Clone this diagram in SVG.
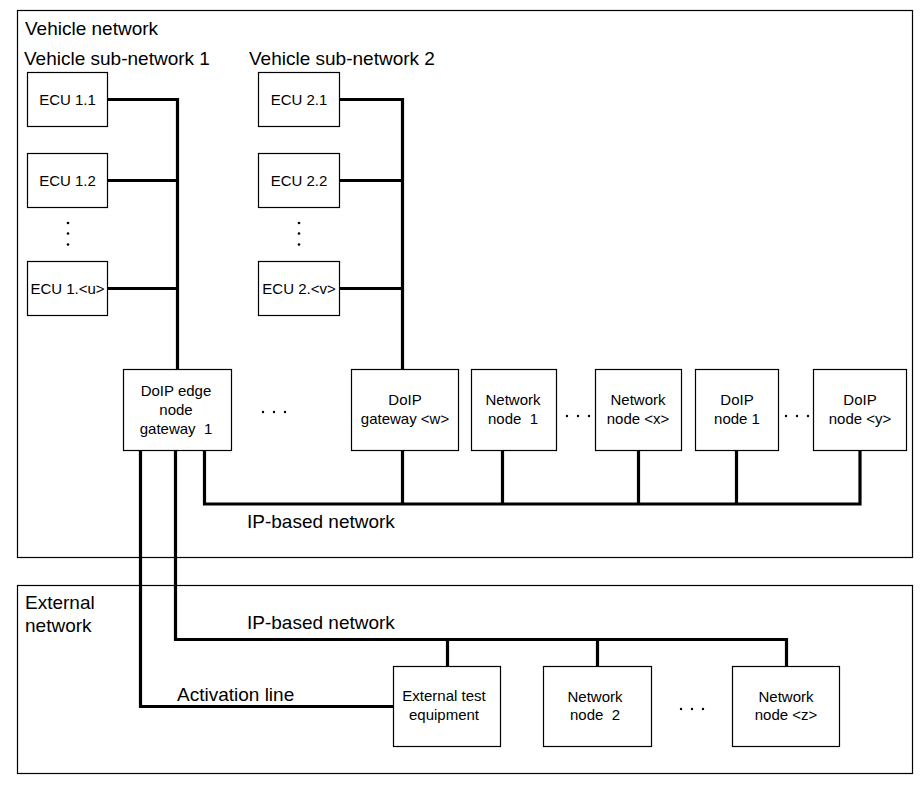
<svg xmlns="http://www.w3.org/2000/svg" width="924" height="787" viewBox="0 0 924 787">
<style>
  .frame { fill: none; stroke: #000; stroke-width: 1.2; }
  .box { fill: #fff; stroke: #000; stroke-width: 1.2; }
  .big { font-family: "Liberation Sans", Arial, sans-serif; font-size: 19px; fill: #000; }
  .t { font-family: "Liberation Sans", Arial, sans-serif; font-size: 15px; fill: #000; text-anchor: middle; }
  .conn { fill: none; stroke: #000; stroke-width: 3.2; stroke-linejoin: miter; stroke-linecap: butt; }
  .dot { fill: #000; }
</style>
<rect width="924" height="787" fill="#fff"/>

<g id="vehicle-network">
  <rect class="frame" x="17.5" y="10.5" width="895" height="547"/>
  <text class="big" x="25" y="35">Vehicle network</text>
  <text class="big" x="24" y="65">Vehicle sub-network 1</text>
  <text class="big" x="249" y="65">Vehicle sub-network 2</text>
</g>
<g id="external-network">
  <rect class="frame" x="17.5" y="585.5" width="895" height="188"/>
  <text class="big" x="25" y="609">External</text>
  <text class="big" x="25" y="632">network</text>
</g>

<g id="connectors">
  <path class="conn" d="M107,99.5 H177.5 V369"/>
  <path class="conn" d="M107,180.5 H177.5"/>
  <path class="conn" d="M107,288.5 H177.5"/>
  <path class="conn" d="M339,99.5 H402.5 V369"/>
  <path class="conn" d="M339,180.5 H402.5"/>
  <path class="conn" d="M339,288.5 H402.5"/>
  <path class="conn" d="M204.5,450 V504 H860 V450"/>
  <path class="conn" d="M402.5,450 V504"/>
  <path class="conn" d="M502.5,450 V504"/>
  <path class="conn" d="M638.5,450 V504"/>
  <path class="conn" d="M736.5,450 V504"/>
  <path class="conn" d="M140.5,450 V706.5 H393"/>
  <path class="conn" d="M175.5,450 V639.5 H786.5 V667"/>
  <path class="conn" d="M447.5,639.5 V667"/>
  <path class="conn" d="M597.5,639.5 V667"/>
  <text class="big" x="247" y="528">IP-based network</text>
  <text class="big" x="247" y="629">IP-based network</text>
  <text class="big" x="177" y="701">Activation line</text>
</g>

<g id="ecu-1-1"><rect class="box" x="27.5" y="72.5" width="80" height="54"/><text class="t" x="67.5" y="105">ECU 1.1</text></g>
<g id="ecu-1-2"><rect class="box" x="27.5" y="153.5" width="80" height="54"/><text class="t" x="67.5" y="186">ECU 1.2</text></g>
<g id="ecu-1-dots"><circle class="dot" cx="68" cy="223" r="1.3"/><circle class="dot" cx="68" cy="233.5" r="1.3"/><circle class="dot" cx="68" cy="244.5" r="1.3"/></g>
<g id="ecu-1-u"><rect class="box" x="27.5" y="261.5" width="80" height="54"/><text class="t" x="67.5" y="294">ECU 1.&lt;u&gt;</text></g>

<g id="ecu-2-1"><rect class="box" x="258.5" y="72.5" width="81" height="54"/><text class="t" x="299" y="105">ECU 2.1</text></g>
<g id="ecu-2-2"><rect class="box" x="258.5" y="153.5" width="81" height="54"/><text class="t" x="299" y="186">ECU 2.2</text></g>
<g id="ecu-2-dots"><circle class="dot" cx="299" cy="223" r="1.3"/><circle class="dot" cx="299" cy="233.5" r="1.3"/><circle class="dot" cx="299" cy="244.5" r="1.3"/></g>
<g id="ecu-2-v"><rect class="box" x="258.5" y="261.5" width="81" height="54"/><text class="t" x="299" y="294">ECU 2.&lt;v&gt;</text></g>

<g id="doip-edge-gateway-1"><rect class="box" x="123.5" y="369.5" width="108" height="81"/>
  <text class="t" x="176" y="396">DoIP edge</text><text class="t" x="176" y="415">node</text><text class="t" x="176" y="434" xml:space="preserve">gateway  1</text></g>
<g id="dots-a"><circle class="dot" cx="263" cy="412" r="1.2"/><circle class="dot" cx="274" cy="412" r="1.2"/><circle class="dot" cx="285" cy="412" r="1.2"/></g>
<g id="doip-gateway-w"><rect class="box" x="351.5" y="369.5" width="107" height="81"/>
  <text class="t" x="405" y="405">DoIP</text><text class="t" x="405" y="424">gateway &lt;w&gt;</text></g>
<g id="network-node-1"><rect class="box" x="471.5" y="369.5" width="85" height="81"/>
  <text class="t" x="513" y="405">Network</text><text class="t" x="513" y="424" xml:space="preserve">node  1</text></g>
<g id="dots-b"><circle class="dot" cx="567" cy="416" r="1.2"/><circle class="dot" cx="578" cy="416" r="1.2"/><circle class="dot" cx="589" cy="416" r="1.2"/></g>
<g id="network-node-x"><rect class="box" x="595.5" y="369.5" width="86" height="81"/>
  <text class="t" x="638" y="405">Network</text><text class="t" x="638" y="424">node &lt;x&gt;</text></g>
<g id="doip-node-1"><rect class="box" x="695.5" y="369.5" width="83" height="81"/>
  <text class="t" x="737" y="405">DoIP</text><text class="t" x="737" y="424">node 1</text></g>
<g id="dots-c"><circle class="dot" cx="786" cy="416" r="1.2"/><circle class="dot" cx="797" cy="416" r="1.2"/><circle class="dot" cx="808" cy="416" r="1.2"/></g>
<g id="doip-node-y"><rect class="box" x="813.5" y="369.5" width="93" height="81"/>
  <text class="t" x="860" y="405">DoIP</text><text class="t" x="860" y="424">node &lt;y&gt;</text></g>

<g id="external-test-equipment"><rect class="box" x="393.5" y="666.5" width="107" height="80"/>
  <text class="t" x="444" y="701">External test</text><text class="t" x="444" y="720">equipment</text></g>
<g id="network-node-2"><rect class="box" x="543.5" y="666.5" width="108" height="80"/>
  <text class="t" x="595" y="702">Network</text><text class="t" x="595" y="720" xml:space="preserve">node  2</text></g>
<g id="dots-d"><circle class="dot" cx="681" cy="709" r="1.2"/><circle class="dot" cx="692" cy="709" r="1.2"/><circle class="dot" cx="703" cy="709" r="1.2"/></g>
<g id="network-node-z"><rect class="box" x="732.5" y="666.5" width="107" height="80"/>
  <text class="t" x="786" y="702">Network</text><text class="t" x="786" y="720">node &lt;z&gt;</text></g>
</svg>
